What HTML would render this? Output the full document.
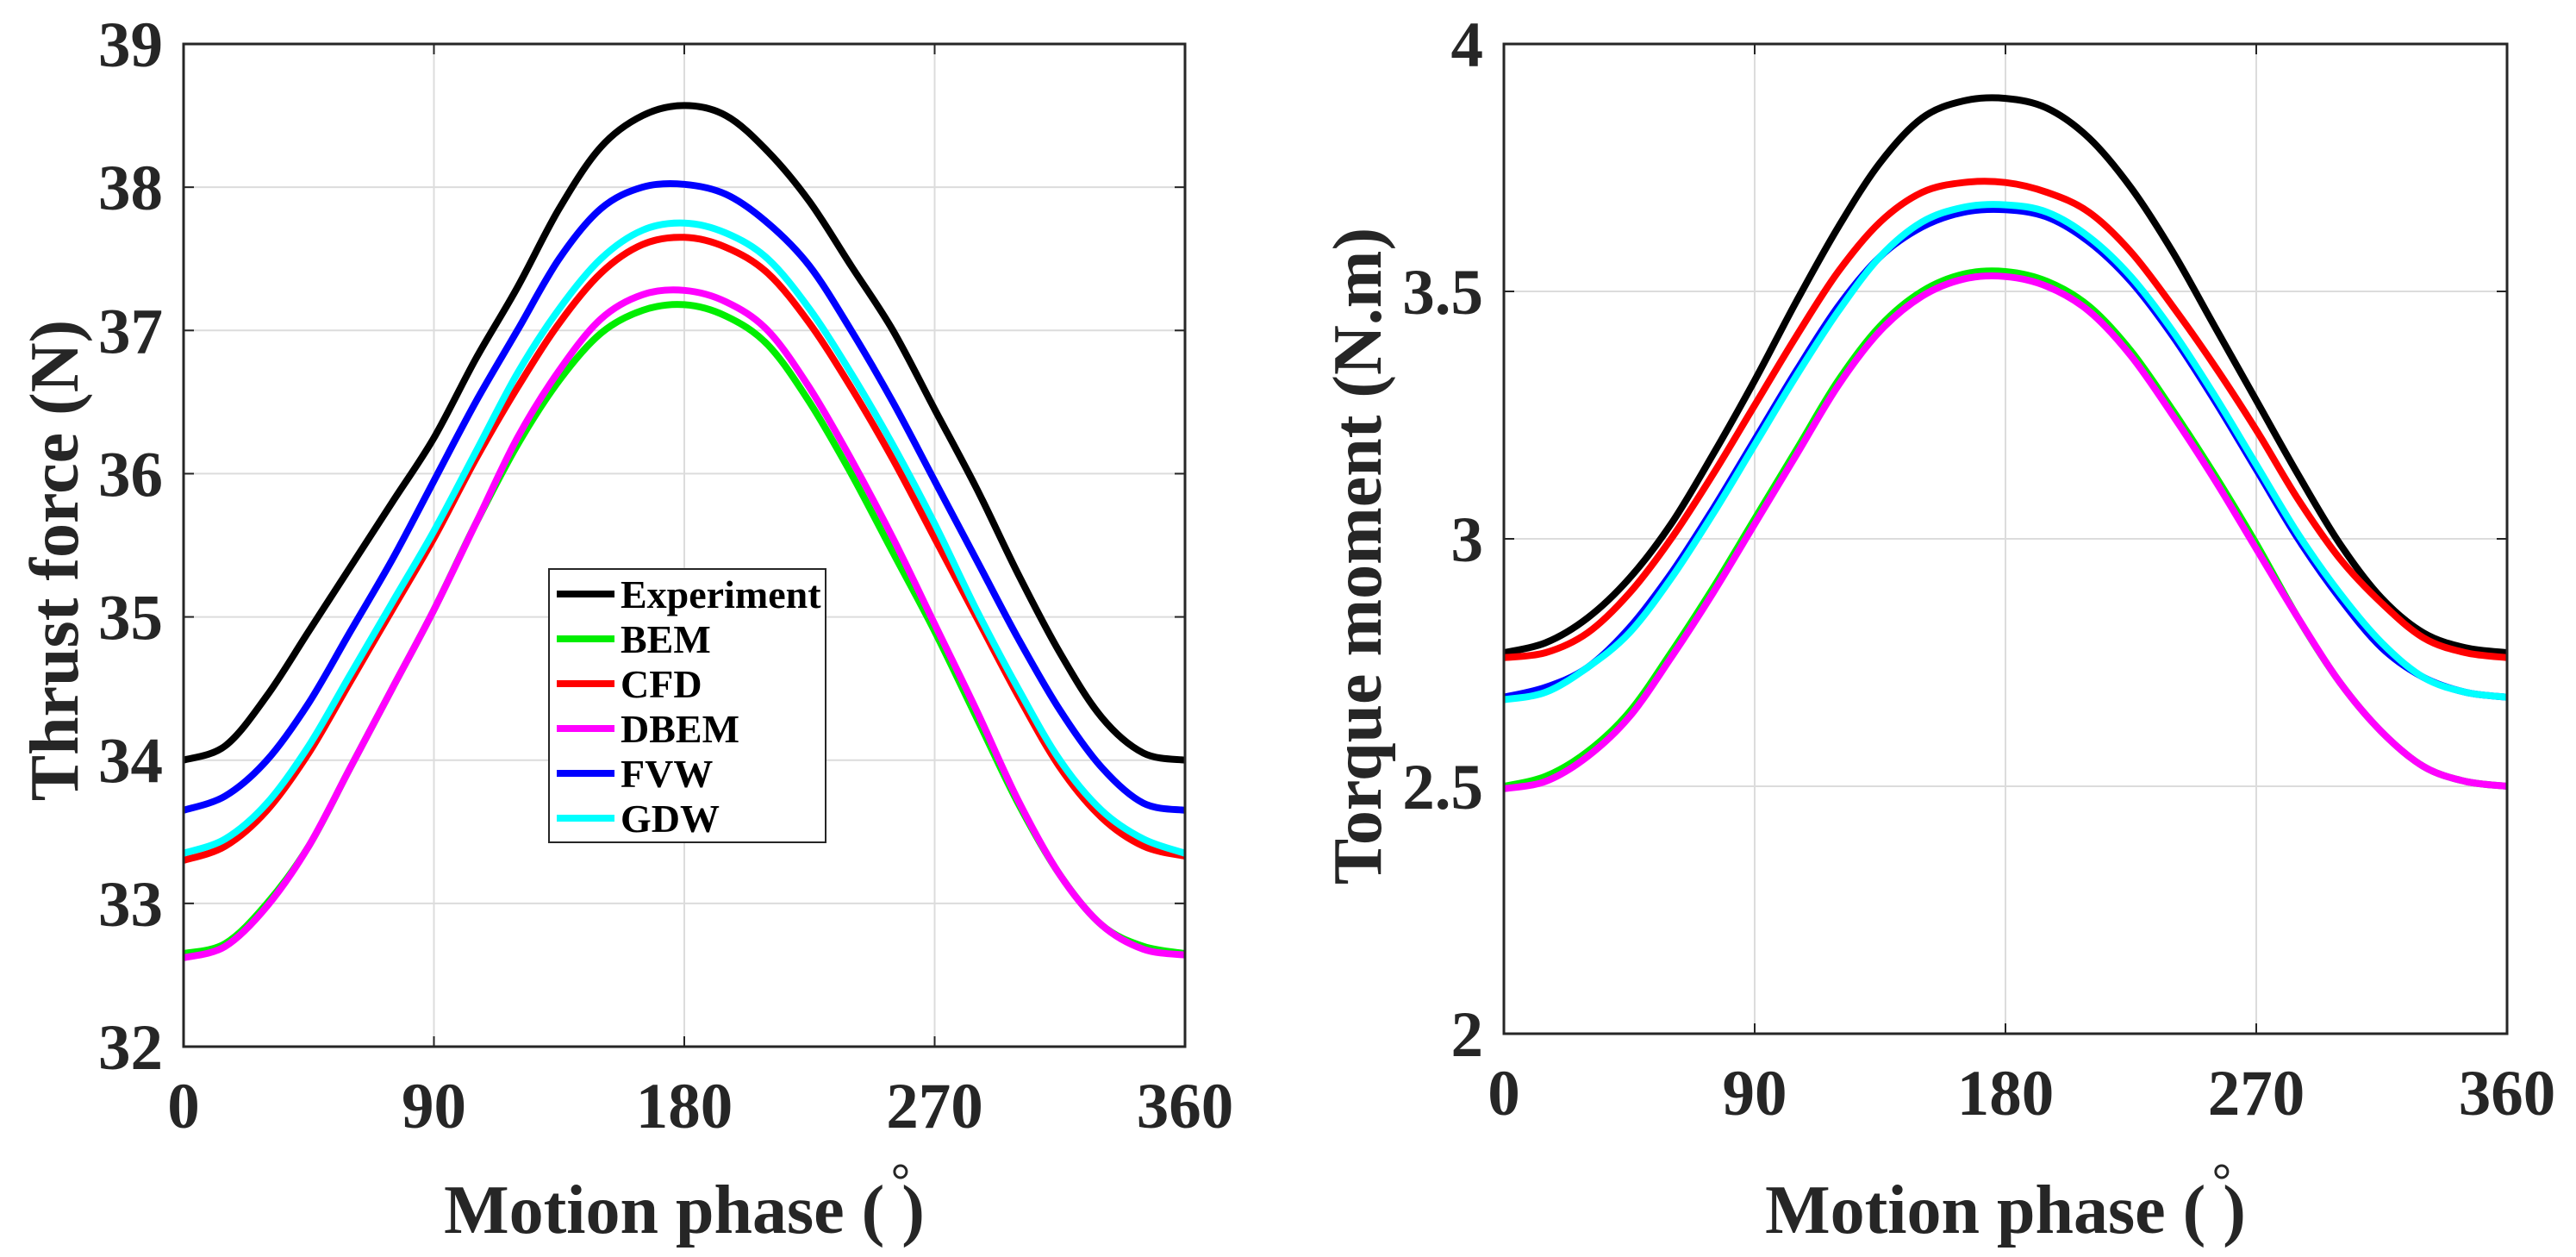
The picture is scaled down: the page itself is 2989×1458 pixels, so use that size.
<!DOCTYPE html>
<html><head><meta charset="utf-8">
<style>
html,body{margin:0;padding:0;background:#fff;}
svg{display:block;}
text{font-family:"Liberation Serif","Times New Roman",serif;font-weight:bold;}
</style></head>
<body>
<svg id="fig" width="2989" height="1458" viewBox="0 0 2989 1458" xmlns="http://www.w3.org/2000/svg"></svg>
<script>
const phases = [0,15,30,45,60,75,90,105,120,135,150,165,180,195,210,225,240,255,270,285,300,315,330,345,360];
const seriesNames = ["Experiment","BEM","CFD","DBEM","FVW","GDW"];
const seriesColors = ["#000000","#00ee00","#ff0000","#ff00ff","#0000ff","#00ffff"];
const xTicks = [0,90,180,270,360];
const thrustTicks = [32,33,34,35,36,37,38,39];
const torqueTicks = [2,2.5,3,3.5,4];
const torqueTickLabels = ["2","2.5","3","3.5","4"];

const thrustExp  = [34.0,34.1,34.45,34.9,35.35,35.8,36.25,36.8,37.3,37.85,38.28,38.5,38.57,38.5,38.25,37.9,37.45,37.0,36.45,35.9,35.3,34.75,34.3,34.05,34.0];
const thrustBEM  = [32.65,32.72,33.0,33.4,33.95,34.5,35.05,35.65,36.2,36.65,36.98,37.14,37.18,37.1,36.9,36.5,36.0,35.45,34.9,34.3,33.7,33.2,32.85,32.7,32.65];
const thrustCFD  = [33.3,33.4,33.65,34.05,34.55,35.05,35.55,36.1,36.6,37.05,37.4,37.6,37.65,37.58,37.4,37.05,36.6,36.1,35.55,35.0,34.45,33.95,33.6,33.4,33.33];
const thrustDBEM = [32.62,32.7,32.98,33.4,33.95,34.5,35.05,35.65,36.25,36.72,37.08,37.25,37.28,37.2,37.0,36.6,36.1,35.55,34.95,34.35,33.72,33.2,32.85,32.68,32.64];
const thrustFVW  = [33.65,33.75,34.0,34.4,34.9,35.4,35.95,36.5,37.0,37.5,37.85,38.0,38.02,37.95,37.75,37.45,37.0,36.5,35.95,35.4,34.85,34.35,33.95,33.7,33.65];
const thrustGDW  = [33.35,33.45,33.7,34.1,34.6,35.1,35.6,36.15,36.7,37.15,37.5,37.7,37.75,37.68,37.5,37.15,36.7,36.2,35.65,35.05,34.5,34.0,33.65,33.45,33.35];

const torqueExp  = [2.77,2.79,2.84,2.92,3.03,3.17,3.32,3.48,3.63,3.76,3.85,3.885,3.89,3.87,3.81,3.71,3.58,3.43,3.28,3.13,2.99,2.88,2.81,2.78,2.77];
const torqueBEM  = [2.50,2.52,2.57,2.65,2.77,2.9,3.04,3.18,3.32,3.43,3.5,3.535,3.54,3.52,3.47,3.38,3.26,3.13,2.99,2.84,2.71,2.61,2.54,2.51,2.50];
const torqueCFD  = [2.76,2.77,2.81,2.89,3.0,3.13,3.27,3.41,3.54,3.64,3.7,3.72,3.72,3.70,3.66,3.58,3.47,3.35,3.22,3.08,2.96,2.87,2.80,2.77,2.76];
const torqueDBEM = [2.495,2.51,2.56,2.64,2.76,2.89,3.03,3.17,3.31,3.42,3.49,3.525,3.53,3.51,3.46,3.37,3.25,3.12,2.98,2.84,2.71,2.61,2.54,2.51,2.50];
const torqueFVW  = [2.68,2.70,2.74,2.82,2.93,3.06,3.2,3.34,3.47,3.57,3.63,3.66,3.665,3.65,3.6,3.52,3.41,3.28,3.14,3.0,2.88,2.78,2.72,2.69,2.68];
const torqueGDW  = [2.675,2.69,2.74,2.81,2.92,3.05,3.19,3.33,3.46,3.57,3.64,3.67,3.675,3.66,3.61,3.53,3.42,3.29,3.15,3.01,2.89,2.79,2.72,2.69,2.68];

const NS = "http://www.w3.org/2000/svg";
const svg = document.getElementById("fig");
function mk(tag, attrs, parent){
  const e = document.createElementNS(NS, tag);
  for (const k in attrs) e.setAttribute(k, attrs[k]);
  (parent||svg).appendChild(e);
  return e;
}
function smoothPath(pts){
  let d = "M" + pts[0][0].toFixed(1) + "," + pts[0][1].toFixed(1);
  for (let i = 0; i < pts.length - 1; i++){
    const p0 = pts[Math.max(0,i-1)], p1 = pts[i], p2 = pts[i+1], p3 = pts[Math.min(pts.length-1,i+2)];
    const c1x = p1[0] + (p2[0]-p0[0])/6, c1y = p1[1] + (p2[1]-p0[1])/6;
    const c2x = p2[0] - (p3[0]-p1[0])/6, c2y = p2[1] - (p3[1]-p1[1])/6;
    d += " C" + c1x.toFixed(1)+","+c1y.toFixed(1)+" "+c2x.toFixed(1)+","+c2y.toFixed(1)+" "+p2[0].toFixed(1)+","+p2[1].toFixed(1);
  }
  return d;
}

function drawPanel(p){
  const g = mk("g", {});
  
  
  const xs = v => p.L + (v - 0) / 360 * (p.R - p.L);
  const ys = v => p.B - (v - p.ymin) / (p.ymax - p.ymin) * (p.B - p.T);
  xTicks.forEach(t => {
    const l = mk("line", {x1:xs(t), x2:xs(t), y1:p.T, y2:p.B, stroke:"#dcdcdc", "stroke-width":2}, g);
    
    
  });
  p.yTicks.forEach(t => {
    const l = mk("line", {x1:p.L, x2:p.R, y1:ys(t), y2:ys(t), stroke:"#dcdcdc", "stroke-width":2}, g);
    
    
  });
  xTicks.forEach(t => {
    mk("line", {x1:xs(t), x2:xs(t), y1:p.B, y2:p.B-12, stroke:"#262626", "stroke-width":2}, g);
    mk("line", {x1:xs(t), x2:xs(t), y1:p.T, y2:p.T+12, stroke:"#262626", "stroke-width":2}, g);
  });
  p.yTicks.forEach(t => {
    mk("line", {x1:p.L, x2:p.L+12, y1:ys(t), y2:ys(t), stroke:"#262626", "stroke-width":2}, g);
    mk("line", {x1:p.R, x2:p.R-12, y1:ys(t), y2:ys(t), stroke:"#262626", "stroke-width":2}, g);
  });
  p.data.forEach((arr, i) => {
    const pts = arr.map((v, j) => [xs(phases[j]), ys(v)]);
    const path = mk("path", {d:smoothPath(pts), fill:"none", stroke:seriesColors[i], "stroke-width":8, "stroke-linejoin":"round"}, g);
    
    
  });
  const box = mk("rect", {x:p.L, y:p.T, width:p.R-p.L, height:p.B-p.T, fill:"none", stroke:"#262626", "stroke-width":3}, g);
  
  
  xTicks.forEach(t => {
    const tx = mk("text", {x:xs(t), y:p.B+94, "text-anchor":"middle", "font-size":75, fill:"#262626"}, g);
    tx.textContent = t;
    
    
  });
  p.yTicks.forEach((t, i) => {
    const tx = mk("text", {x:p.L-24, y:ys(t)+26, "text-anchor":"end", "font-size":75, fill:"#262626"}, g);
    tx.textContent = p.yLabels[i];
    
    
  });
  const cx = (p.L + p.R) / 2;
  const xt = mk("text", {x:cx, y:1430, "text-anchor":"middle", "font-size":80, fill:"#262626"}, g);
  xt.textContent = "Motion phase ( )";
  
  
  let dx = cx + 270;
  try { const bb = xt.getBBox(); dx = bb.x + bb.width - 28; } catch(e) {}
  const deg = mk("circle", {cx:dx, cy:1359, r:7, fill:"none", stroke:"#262626", "stroke-width":3}, g);
  
  
  const yt = mk("text", {x:0, y:0, "text-anchor":"middle", "font-size":80, fill:"#262626", transform:"translate(" + p.ytx + "," + p.yty + ") rotate(-90)"}, g);
  yt.textContent = p.ytitle;
  
  
}

drawPanel({name:"thrust-panel", L:213, R:1375, T:51, B:1214, ymin:32, ymax:39,
  yTicks:thrustTicks, yLabels:thrustTicks.map(String),
  data:[thrustExp,thrustBEM,thrustCFD,thrustDBEM,thrustFVW,thrustGDW],
  ytitle:"Thrust force (N)", ytx:90, yty:650});

drawPanel({name:"torque-panel", L:1745, R:2909, T:51, B:1199, ymin:2, ymax:4,
  yTicks:torqueTicks, yLabels:torqueTickLabels,
  data:[torqueExp,torqueBEM,torqueCFD,torqueDBEM,torqueFVW,torqueGDW],
  ytitle:"Torque moment (N.m)", ytx:1602, yty:645});

const lg = mk("g", {});


mk("rect", {x:637, y:660, width:321, height:317, fill:"#fff", stroke:"#262626", "stroke-width":2}, lg);
seriesNames.forEach((n, i) => {
  const y = 689 + i * 52;
  const e = mk("g", {}, lg);
  
  
  mk("line", {x1:646, x2:713, y1:y, y2:y, stroke:seriesColors[i], "stroke-width":8}, e);
  const t = mk("text", {x:720, y:y+16, "font-size":46, fill:"#000"}, e);
  t.textContent = n;
});
</script>
</body></html>
